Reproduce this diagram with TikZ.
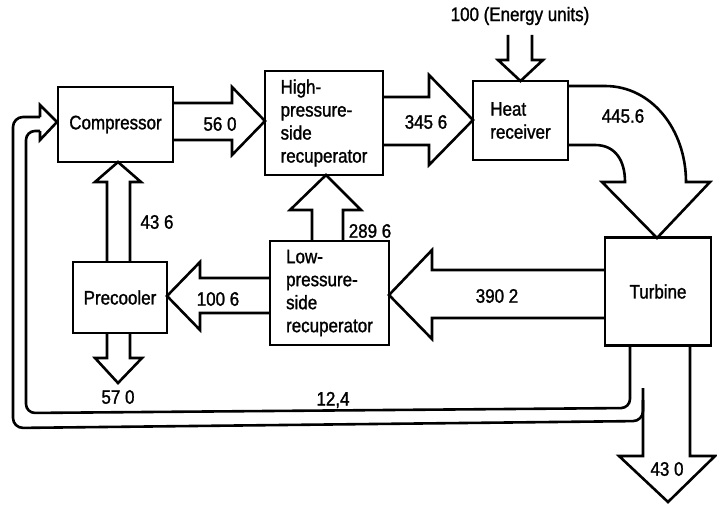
\documentclass[tikz,border=0pt]{standalone}
\usepackage{fontspec}
\setmainfont{Liberation Sans}[FakeStretch=0.87,FakeBold=1.3]
\newcommand\diagfont{\fontsize{19.5}{23}\selectfont}
\begin{document}
\begin{tikzpicture}[x=1pt,y=-1pt,line width=2.6pt,line join=miter,
  box/.style={draw,rectangle,inner sep=0pt,align=left,font=\diagfont},
  lbl/.style={inner sep=0pt,font=\diagfont},
  flow/.style={draw,line join=miter}]
\useasboundingbox (0,0) rectangle (717,511);
% boxes
\node[box,minimum width=115pt,minimum height=75pt] (comp) at (115.5,124.5) {Compressor};
\node[box,minimum width=118pt,minimum height=104pt] (hp) at (324,123) {High-\\pressure-\\side\\recuperator};
\node[box,minimum width=95pt,minimum height=79pt] (heat) at (520.5,120.5) {Heat\\receiver};
\node[box,minimum width=106pt,minimum height=108pt] (turb) at (658,291.5) {Turbine};
\node[box,minimum width=119pt,minimum height=104pt] (lp) at (329.5,293) {Low-\\pressure-\\side\\recuperator};
\node[box,minimum width=94pt,minimum height=71pt] (pre) at (120,297.5) {Precooler};
% flows
\draw[flow] (173,103) -- (232,103) -- (232,87) -- (265,121) -- (232,155) -- (232,140) -- (173,140);
\draw[flow] (383,97) -- (429,97) -- (429,75) -- (473,120) -- (429,165) -- (429,145) -- (383,145);
\draw[flow] (508,35) -- (508,60) -- (498,60) -- (520.5,81) -- (543,60) -- (532,60) -- (532,35);
\draw[flow] (568,86) -- (605,86) .. controls (652,86) and (686,130) .. (686,182) -- (710,182) -- (657,238) -- (602,182) -- (625,182) .. controls (625,160) and (615,145) .. (595,145) -- (568,145);
\draw[flow] (605,270) -- (432,270) -- (432,250) -- (389,295) -- (432,339) -- (432,318) -- (605,318);
\draw[flow] (312,241) -- (312,210) -- (290,210) -- (326,175) -- (361,210) -- (343,210) -- (343,241);
\draw[flow] (270,278) -- (200,278) -- (200,262) -- (167,296) -- (200,330) -- (200,313) -- (270,313);
\draw[flow] (107,262) -- (107,182) -- (95,182) -- (118,162) -- (141,182) -- (130,182) -- (130,262);
\draw[flow] (107,333) -- (107,358) -- (95,358) -- (118,383) -- (142,358) -- (130,358) -- (130,333);
\draw[flow] (690,345) -- (690,456) -- (715,456) -- (668,502) -- (619,456) -- (643,456) -- (643,388);
\draw[rounded corners=9pt] (630,345) -- (630,408) -- (26,413) -- (26,131) -- (40,131);
\draw[rounded corners=10pt] (643,400) -- (643,421) -- (13,428) -- (13,117) -- (40,117);
\draw[flow] (40,117) -- (40,105) -- (57,122) -- (40,140) -- (40,131);
% labels
\node[lbl] (l1) at (220,124) {56 0};
\node[lbl] (l2) at (426,122) {345 6};
\node[lbl] (l3) at (520,16) {100 (Energy units)};
\node[lbl] (l4) at (623,116) {445.6};
\node[lbl] (l5) at (497,296) {390 2};
\node[lbl] (l6) at (370,231) {289 6};
\node[lbl] (l7) at (218,299) {100 6};
\node[lbl] (l8) at (157,222) {43 6};
\node[lbl] (l9) at (118,397) {57 0};
\node[lbl] (l10) at (333,400) {12,4};
\node[lbl] (l11) at (667,469) {43 0};
\end{tikzpicture}
\end{document}
